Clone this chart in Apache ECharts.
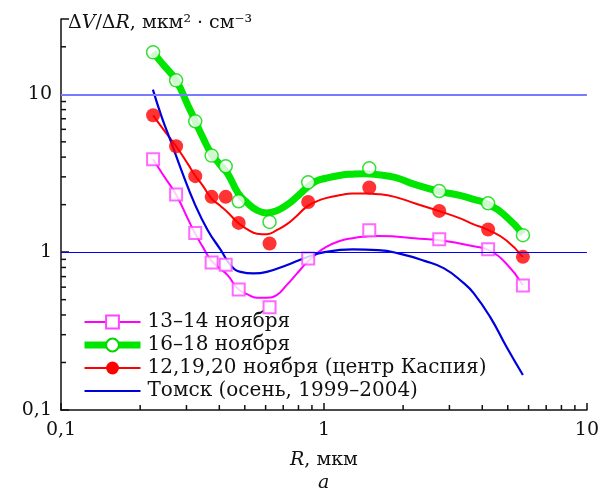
<!DOCTYPE html>
<html>
<head>
<meta charset="utf-8">
<script src="https://cdn.jsdelivr.net/npm/echarts@6.0.0/dist/echarts.min.js"></script>
<style>
  html, body { margin: 0; padding: 0; background: #fff; }
  #chart { width: 602px; height: 490px; }
</style>
</head>
<body>
<div id="chart"></div>
<script>
  'use strict'

  // measured points, R in мкм
  var radii = [0.224, 0.274, 0.324, 0.374, 0.423, 0.474, 0.621, 0.871, 1.487, 2.744, 4.21, 5.71];
  var pinkVals = [3.88, 2.32, 1.32, 0.861, 0.831, 0.581, 0.447, 0.912, 1.378, 1.209, 1.045, 0.615];
  var greenVals = [18.45, 12.26, 6.75, 4.09, 3.50, 2.10, 1.555, 2.77, 3.40, 2.44, 2.04, 1.281];
  var redVals = [7.36, 4.69, 3.03, 2.24, 2.24, 1.532, 1.135, 2.08, 2.57, 1.826, 1.392, 0.934];

  // fitted curves
  var curveR = [0.224, 0.245, 0.274, 0.304, 0.323, 0.346, 0.374, 0.401, 0.430, 0.472, 0.510,
    0.556, 0.607, 0.661, 0.721, 0.786, 0.856, 0.933, 1.017, 1.158, 1.284, 1.436, 1.607,
    1.861, 2.211, 2.744, 3.316, 3.709, 4.223, 4.932, 5.709];
  var pinkCurve = [3.88, 3.07, 2.31, 1.62, 1.32, 1.08, 0.877, 0.792, 0.715, 0.583, 0.542,
    0.515, 0.515, 0.534, 0.618, 0.726, 0.852, 0.971, 1.076, 1.182, 1.226, 1.254, 1.268,
    1.257, 1.226, 1.191, 1.132, 1.091, 1.030, 0.848, 0.618];
  var greenCurve = [18.44, 15.37, 12.26, 8.5, 6.85, 5.34, 4.17, 3.61, 3.15, 2.36, 2.06,
    1.844, 1.773, 1.831, 1.985, 2.229, 2.54, 2.815, 2.94, 3.07, 3.12, 3.14, 3.09,
    2.98, 2.69, 2.43, 2.28, 2.16, 2.01, 1.678, 1.30];
  var redCurve = [7.36, 6.00, 4.69, 3.61, 3.07, 2.64, 2.18, 1.98, 1.79, 1.53, 1.40,
    1.31, 1.30, 1.38, 1.50, 1.69, 1.93, 2.09, 2.20, 2.30, 2.35, 2.35, 2.33,
    2.24, 2.04, 1.82, 1.63, 1.50, 1.38, 1.19, 0.93];

  var tomskR = [0.2236, 0.2416, 0.2634, 0.2871, 0.3222, 0.3614, 0.4054, 0.4418, 0.4817, 0.5408,
    0.6065, 0.7206, 0.8564, 1.017, 1.284, 1.607, 1.971, 2.410, 2.863, 3.402, 3.709, 4.283, 4.943, 5.709];
  var tomskVals = [10.71, 7.18, 4.88, 3.30, 2.03, 1.378, 1.030, 0.827, 0.750, 0.733,
    0.750, 0.827, 0.926, 1.004, 1.040, 1.030, 0.971, 0.881, 0.789, 0.636, 0.550, 0.389, 0.2516, 0.1666];

  var names = ['13–14 ноября', '16–18 ноября', '12,19,20 ноября (центр Каспия)', 'Томск (осень, 1999–2004)'];
  var minorX = [0.2, 0.3, 0.4, 0.5, 0.6, 0.7, 0.8, 0.9, 2, 3, 4, 5, 6, 7, 8, 9];
  var minorY = [0.2, 0.3, 0.4, 0.5, 0.6, 0.7, 0.8, 0.9, 2, 3, 4, 5, 6, 7, 8, 9, 20];

  var font = 'DejaVu Serif';
  var fs = 19;

  function zip(xs, ys) {
    return xs.map(function (x, i) { return [x, ys[i]]; });
  }

  function isDecade(v) {
    var l = Math.log10(v);
    return Math.abs(l - Math.round(l)) < 1e-6;
  }

  function tickLabel(v) {
    if (!isDecade(v)) return '';
    return String(+v.toFixed(3)).replace('.', ',');
  }

  function minorTicks(pts, dir) {
    return {
      type: 'custom',
      silent: true,
      clip: false,
      data: pts,
      z: 5,
      renderItem: function (params, api) {
        var p = api.coord([api.value(0), api.value(1)]);
        var x2 = dir === 'x' ? p[0] : p[0] + 5;
        var y2 = dir === 'x' ? p[1] - 5 : p[1];
        return {
          type: 'line',
          shape: { x1: p[0], y1: p[1], x2: x2, y2: y2 },
          style: { stroke: '#111', lineWidth: 1.5 }
        };
      }
    };
  }

  function curve(name, pts, color, width, sym, size, item) {
    return {
      name: name,
      type: 'line',
      data: pts,
      smooth: 0.5,
      symbol: sym,
      symbolSize: size,
      showSymbol: false,
      lineStyle: { color: color, width: width },
      itemStyle: item,
      z: 2
    };
  }

  function marks(name, pts, sym, size, item) {
    return {
      name: name,
      type: 'scatter',
      data: pts,
      symbol: sym,
      symbolSize: size,
      itemStyle: item,
      z: 3
    };
  }

  var pinkItem = { color: '#fff', borderColor: '#ff44ff', borderWidth: 2 };
  var greenItem = { color: '#fff', borderColor: '#00d800', borderWidth: 1.5 };
  var redItem = { color: '#ff0000' };

  var pinkLine = curve(names[0], zip(curveR, pinkCurve), '#ff00ff', 2, 'rect', 12, pinkItem);
  pinkLine.markLine = {
    silent: true,
    symbol: 'none',
    label: { show: false },
    data: [
      { yAxis: 10, lineStyle: { color: '#7a7aff', width: 2, type: 'solid' } },
      { yAxis: 1, lineStyle: { color: '#0000ff', width: 1.2, type: 'solid' } }
    ]
  };

  var chart = echarts.init(document.getElementById('chart'));

  var option = {
    animation: false,
    backgroundColor: '#fff',
    textStyle: { fontFamily: font },
    grid: { left: 61, right: 7, top: 19, bottom: 80, containLabel: false },
    legend: {
      data: [
        { name: names[0] },
        { name: names[1], lineStyle: { width: 7 } },
        { name: names[2] },
        { name: names[3], icon: 'path://M0,0 L56,0 L56,2.2 L0,2.2 Z' }
      ],
      orient: 'vertical',
      left: 81,
      top: 312,
      padding: 0,
      itemWidth: 56,
      itemHeight: 16,
      itemGap: 3,
      textStyle: { fontFamily: font, fontSize: 20, color: '#111', lineHeight: 20, padding: [0, 0, 0, 2] }
    },
    xAxis: {
      type: 'log',
      logBase: 10,
      min: 0.1,
      max: 10,
      axisLine: { lineStyle: { color: '#111', width: 1.5 } },
      axisTick: { inside: true, length: 7, lineStyle: { color: '#111', width: 1.5 } },
      axisLabel: { formatter: tickLabel, fontFamily: font, fontSize: fs, color: '#111', margin: 11, showMaxLabel: true },
      splitLine: { show: false },
      name: '{i|R}, мкм',
      nameLocation: 'middle',
      nameGap: 41,
      nameTextStyle: {
        fontFamily: font, fontSize: fs, color: '#111',
        rich: { i: { fontFamily: font, fontSize: fs, fontStyle: 'italic', color: '#111' } }
      }
    },
    yAxis: {
      type: 'log',
      logBase: 10,
      min: 0.1,
      max: 30,
      axisLine: { show: true, lineStyle: { color: '#111', width: 1.5 } },
      axisTick: { show: true, inside: true, length: 8, lineStyle: { color: '#111', width: 1.5 } },
      axisLabel: { formatter: tickLabel, fontFamily: font, fontSize: fs, color: '#111', margin: 9 },
      splitLine: { show: false }
    },
    graphic: [
      {
        type: 'text',
        left: 68,
        top: 14,
        style: {
          text: 'Δ{i|V}/Δ{i|R}, мкм² · см⁻³',
          font: fs + 'px "' + font + '"',
          fill: '#111',
          rich: { i: { fontFamily: font, fontSize: fs, fontStyle: 'italic', fill: '#111' } }
        }
      },
      {
        type: 'text',
        left: 318,
        top: 474,
        style: { text: 'а', font: 'italic ' + fs + 'px "' + font + '"', fill: '#111' }
      }
    ],
    series: [
      pinkLine,
      curve(names[1], zip(curveR, greenCurve), '#00e600', 7, 'circle', 13, greenItem),
      curve(names[2], zip(curveR, redCurve), '#ff0000', 2, 'circle', 14, redItem),
      curve(names[3], zip(tomskR, tomskVals), '#0000dd', 2.2, 'none', 0, { color: '#0000dd' }),
      marks(names[0], zip(radii, pinkVals), 'rect', 12, pinkItem),
      marks(names[1], zip(radii, greenVals), 'circle', 13, greenItem),
      marks(names[2], zip(radii, redVals), 'circle', 14, redItem),
      minorTicks(minorX.map(function (v) { return [v, 0.1]; }), 'x'),
      minorTicks(minorY.map(function (v) { return [0.1, v]; }), 'y')
    ]
  };

  chart.setOption(option);
  window.addEventListener('resize', function () {
    chart.resize();
  });
</script>
</body>
</html>
